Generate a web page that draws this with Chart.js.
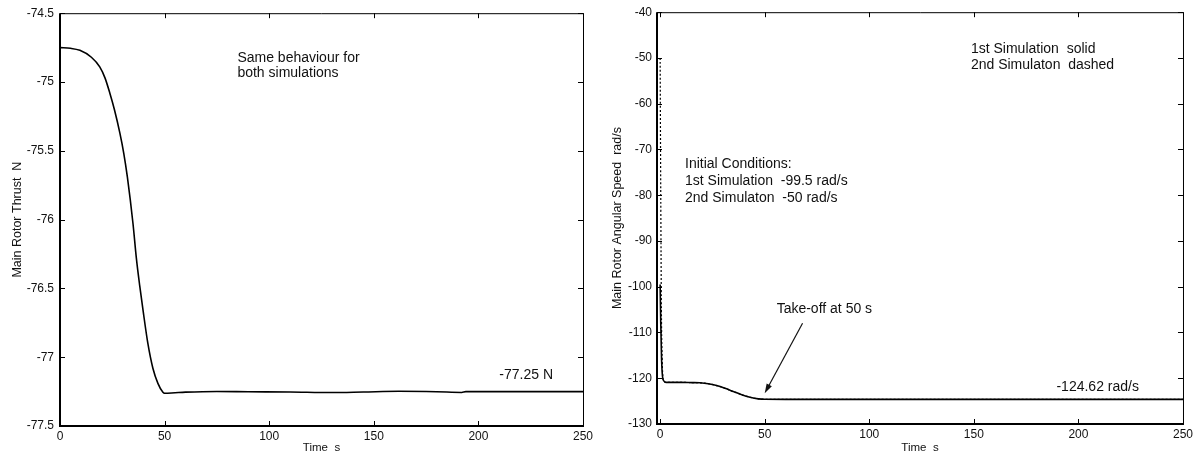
<!DOCTYPE html>
<html>
<head>
<meta charset="utf-8">
<script src="https://cdn.jsdelivr.net/npm/chart.js@4.4.1/dist/chart.umd.min.js"></script>
<style>
body { margin: 0; background: #fff; }
#wrap { position: relative; width: 1196px; height: 455px; }
canvas { position: absolute; top: 0; }
#thrustPlot { left: 0; }
#speedPlot { left: 598px; }
</style>
</head>
<body>
<div id="wrap">
  <canvas id="thrustPlot" width="598" height="455"></canvas>
  <canvas id="speedPlot" width="598" height="455"></canvas>
</div>
<script>
// left plot: main rotor thrust (same for both simulations)
let thrustTime  = [0, 5, 9.5, 15, 19, 21.5, 23.8, 26, 28.6, 30.5, 32.2, 34.9, 36.5, 38.1, 39.7, 42, 44.4, 46.8, 49.2, 50, 55, 60, 75, 90, 110, 130, 145, 162, 180, 192, 194, 220, 250];
let thrustValue = [-74.75, -74.755, -74.77, -74.82, -74.89, -74.97, -75.08, -75.2, -75.37, -75.52, -75.69, -76.03, -76.28, -76.48, -76.66, -76.9, -77.08, -77.19, -77.255, -77.262, -77.258, -77.254, -77.249, -77.251, -77.253, -77.257, -77.253, -77.248, -77.251, -77.256, -77.25, -77.25, -77.25];

// right plot: main rotor angular speed
let solidTime   = [0, 0.3, 0.7, 1.2, 2, 3, 5, 10, 15, 19, 23, 27, 31, 35, 39, 43, 47, 50, 60, 100, 150, 200, 250];
let solidValue  = [-99.5, -108, -116, -119.8, -120.7, -120.9, -120.9, -120.9, -120.95, -121.0, -121.2, -121.6, -122.2, -122.9, -123.6, -124.15, -124.5, -124.6, -124.62, -124.62, -124.62, -124.62, -124.62];
let dashedTime  = [0, 0.3, 0.6, 1.0, 1.4, 2.2, 3];
let dashedValue = [-50, -80, -105, -116, -120.2, -120.8, -120.9];

// tick labels
let timeTicks   = [0, 50, 100, 150, 200, 250];
let thrustTicks = [-77.5, -77, -76.5, -76, -75.5, -75, -74.5];
let speedTicks  = [-130, -120, -110, -100, -90, -80, -70, -60, -50, -40];

let fontFamily = "Arial, 'Liberation Sans', Helvetica, sans-serif";
Chart.defaults.font.family = fontFamily;
Chart.defaults.color = '#111';

/**
 * frame, inward ticks on all sides, text notes and arrows
 */
let framePlugin = {
    id: 'frame',
    afterDraw: function(chart, args, opts){
        let ctx = chart.ctx;
        let area = chart.chartArea;
        let xs = chart.scales.x;
        let ys = chart.scales.y;
        ctx.save();
        ctx.strokeStyle = '#000';
        ctx.lineWidth = 1;
        ctx.beginPath();
        xs.ticks.forEach(function(t){
            let px = Math.round(xs.getPixelForValue(t.value)) + 0.5;
            ctx.moveTo(px, area.bottom);
            ctx.lineTo(px, area.bottom - 5);
            ctx.moveTo(px, area.top);
            ctx.lineTo(px, area.top + 5);
        });
        ys.ticks.forEach(function(t){
            let py = Math.round(ys.getPixelForValue(t.value)) + 0.5;
            ctx.moveTo(area.left, py);
            ctx.lineTo(area.left + 5, py);
            ctx.moveTo(area.right, py);
            ctx.lineTo(area.right - 5, py);
        });
        ctx.stroke();

        ctx.beginPath();
        ctx.moveTo(area.left, area.top + 0.5);
        ctx.lineTo(area.right + 0.5, area.top + 0.5);
        ctx.lineTo(area.right + 0.5, area.bottom);
        ctx.stroke();

        ctx.lineWidth = 2;
        ctx.beginPath();
        ctx.moveTo(area.left, area.top);
        ctx.lineTo(area.left, area.bottom);
        ctx.lineTo(area.right + 1, area.bottom);
        ctx.stroke();

        ctx.fillStyle = '#111';
        ctx.font = '14px ' + fontFamily;
        ctx.textAlign = 'left';
        ctx.textBaseline = 'middle';
        (opts.notes || []).forEach(function(n){
            ctx.fillText(n.text, xs.getPixelForValue(n.x), ys.getPixelForValue(n.y));
        });

        (opts.arrows || []).forEach(function(a){
            let x0 = xs.getPixelForValue(a.from[0]), y0 = ys.getPixelForValue(a.from[1]);
            let x1 = xs.getPixelForValue(a.to[0]), y1 = ys.getPixelForValue(a.to[1]);
            let ang = Math.atan2(y1 - y0, x1 - x0);
            ctx.lineWidth = 1.2;
            ctx.strokeStyle = '#111';
            ctx.beginPath();
            ctx.moveTo(x0, y0);
            ctx.lineTo(x1 - 6 * Math.cos(ang), y1 - 6 * Math.sin(ang));
            ctx.stroke();
            ctx.beginPath();
            ctx.moveTo(x1, y1);
            ctx.lineTo(x1 - 10 * Math.cos(ang - 0.3), y1 - 10 * Math.sin(ang - 0.3));
            ctx.lineTo(x1 - 10 * Math.cos(ang + 0.3), y1 - 10 * Math.sin(ang + 0.3));
            ctx.closePath();
            ctx.fill();
        });
        ctx.restore();
    }
};

function toPoints(xArr, yArr){
    let pts = [];
    for (let i = 0; i < xArr.length; i++){
        pts.push({x: xArr[i], y: yArr[i]});
    }
    return pts;
}

/**
 * build one scale
 */
function makeScale(min, max, tickValues, title, fixSize, pad, isY){
    return {
        type: 'linear',
        min: min,
        max: max,
        grid: {display: false, drawTicks: false},
        border: {display: false},
        afterBuildTicks: function(scale){
            scale.ticks = tickValues.map(function(v){ return {value: v}; });
        },
        afterFit: function(scale){
            if (isY) { scale.width = fixSize; } else { scale.height = fixSize; }
        },
        ticks: {
            padding: pad,
            font: {size: 12},
            color: '#111',
            callback: function(v){ return String(v); }
        },
        title: {
            display: true,
            text: title,
            font: {size: isY ? 12.5 : 11.5},
            color: '#111',
            padding: isY ? {top: 10.5, bottom: 0} : {top: 0, bottom: 0}
        }
    };
}

/**
 * Draw one plot
 */
function draw(canvasId, datasets, xScale, yScale, padding, notes, arrows){
    let plotArea = document.getElementById(canvasId);
    let chartObject = {};
    chartObject['type'] = 'line';
    chartObject['data'] = {datasets: datasets};
    chartObject['options'] = {
        responsive: false,
        animation: false,
        devicePixelRatio: 1,
        layout: {padding: padding},
        scales: {x: xScale, y: yScale},
        plugins: {
            legend: {display: false},
            tooltip: {enabled: false},
            frame: {notes: notes, arrows: arrows}
        }
    };
    chartObject['plugins'] = [framePlugin];
    return new Chart(plotArea, chartObject);
}

let lineStyle = {borderColor: '#000', pointRadius: 0, fill: false, cubicInterpolationMode: 'monotone'};

draw('thrustPlot',
    [Object.assign({label: 'thrust', data: toPoints(thrustTime, thrustValue), borderWidth: 1.6}, lineStyle)],
    makeScale(0, 250, timeTicks, 'Time  s', 29, 3, false),
    makeScale(-77.5, -74.5, thrustTicks, 'Main Rotor Thrust  N', 60, 6, true),
    {left: 0, right: 15, top: 13, bottom: 0},
    [
        {text: 'Same behaviour for', x: 84.8, y: -74.826},
        {text: 'both simulations', x: 84.8, y: -74.935},
        {text: '-77.25 N', x: 210, y: -77.13}
    ],
    []
);

let dashedTail = [];
for (let i = 0; i < solidTime.length; i++){
    if (solidTime[i] > 3) { dashedTail.push({x: solidTime[i], y: solidValue[i]}); }
}

let speedY = makeScale(-130, -40, speedTicks, 'Main Rotor Angular Speed  rad/s', 59, 5, true);
speedY.title.padding = {top: 12.5, bottom: 0};
let speedX = makeScale(-1.5, 250, timeTicks, 'Time  s', 31, 3, false);

draw('speedPlot',
    [
        Object.assign({label: '1st Simulation', data: toPoints(solidTime, solidValue), borderWidth: 1.6}, lineStyle),
        Object.assign({label: '2nd Simulaton', data: toPoints(dashedTime, dashedValue).concat(dashedTail), borderWidth: 1.2, borderDash: [2, 2]}, lineStyle)
    ],
    speedX,
    speedY,
    {left: 0, right: 13, top: 10, bottom: 0},
    [
        {text: '1st Simulation  solid', x: 148.6, y: -48.0},
        {text: '2nd Simulaton  dashed', x: 148.6, y: -51.5},
        {text: 'Initial Conditions:', x: 11.9, y: -73.3},
        {text: '1st Simulation  -99.5 rad/s', x: 11.9, y: -77.0},
        {text: '2nd Simulaton  -50 rad/s', x: 11.9, y: -80.65},
        {text: 'Take-off at 50 s', x: 55.7, y: -105},
        {text: '-124.62 rad/s', x: 189.5, y: -122.0}
    ],
    [{from: [68.1, -108.0], to: [50, -123.3]}]
);
</script>
</body>
</html>
